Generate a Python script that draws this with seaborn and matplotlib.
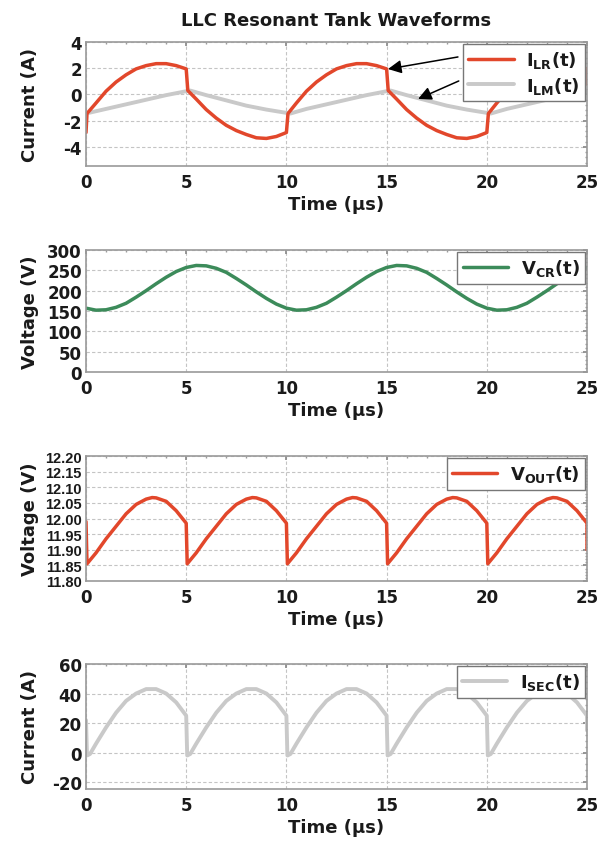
import matplotlib
matplotlib.use("Agg")
import matplotlib.pyplot as plt
from matplotlib.ticker import AutoMinorLocator
import seaborn as sns

# ---------------- data ----------------
t_ilr = [0.0, 0.05, 0.5, 1.0, 1.5, 2.0, 2.5, 3.0, 3.5, 4.0, 4.5, 5.0,
         5.08, 5.5, 6.0, 6.5, 7.0, 7.5, 8.0, 8.5, 9.0, 9.5, 10.0,
         10.08, 10.5, 11.0, 11.5, 12.0, 12.5, 13.0, 13.5, 14.0, 14.5, 15.0,
         15.08, 15.5, 16.0, 16.5, 17.0, 17.5, 18.0, 18.5, 19.0, 19.5, 20.0,
         20.08, 20.5, 21.0, 21.5, 22.0, 22.5, 23.0, 23.5, 24.0, 24.5, 25.0, 25.0]
i_lr = [-2.9, -1.45, -0.65, 0.25, 0.95, 1.5, 1.95, 2.2, 2.35, 2.35, 2.2, 1.95,
        0.3, -0.35, -1.15, -1.8, -2.35, -2.75, -3.05, -3.3, -3.35, -3.2, -2.9,
        -1.45, -0.65, 0.25, 0.95, 1.5, 1.95, 2.2, 2.35, 2.35, 2.2, 1.95,
        0.3, -0.35, -1.15, -1.8, -2.35, -2.75, -3.05, -3.3, -3.35, -3.2, -2.9,
        -1.45, -0.65, 0.25, 0.95, 1.5, 1.95, 2.2, 2.35, 2.35, 2.2, 1.95, 0.8]

t_ilm = [0.0, 1.0, 2.0, 3.0, 4.0, 5.0, 5.2, 6.0, 7.0, 8.0, 9.0, 10.0, 10.2,
         11.0, 12.0, 13.0, 14.0, 15.0, 15.2, 16.0, 17.0, 18.0, 19.0, 20.0, 20.2,
         21.0, 22.0, 23.0, 24.0, 25.0]
i_lm = [-1.45, -1.1, -0.75, -0.4, -0.05, 0.25, 0.3, -0.05, -0.45, -0.85, -1.15, -1.4, -1.45,
        -1.1, -0.75, -0.4, -0.05, 0.25, 0.3, -0.05, -0.45, -0.85, -1.15, -1.4, -1.45,
        -1.1, -0.75, -0.4, -0.05, 0.25]

t_vcr = [0.0, 0.5, 1.0, 1.5, 2.0, 2.5, 3.0, 3.5, 4.0, 4.5, 5.0, 5.5, 6.0, 6.5, 7.0,
         7.5, 8.0, 8.5, 9.0, 9.5, 10.0, 10.5, 11.0, 11.5, 12.0, 12.5, 13.0, 13.5,
         14.0, 14.5, 15.0, 15.5, 16.0, 16.5, 17.0, 17.5, 18.0, 18.5, 19.0, 19.5,
         20.0, 20.5, 21.0, 21.5, 22.0, 22.5, 23.0, 23.5, 24.0, 24.5, 25.0]
v_cr = [157, 152, 153, 159, 169, 184, 200, 217, 233, 247, 257, 262, 261, 255, 245,
        230, 214, 197, 181, 167, 157, 152, 153, 159, 169, 184, 200, 217,
        233, 247, 257, 262, 261, 255, 245, 230, 214, 197, 181, 167,
        157, 152, 153, 159, 169, 184, 200, 217, 233, 247, 257]

t_out = [0.0, 0.05, 0.5, 1.0, 1.5, 2.0, 2.5, 3.0, 3.3, 3.5, 4.0, 4.5, 5.0,
         5.05, 5.5, 6.0, 6.5, 7.0, 7.5, 8.0, 8.3, 8.5, 9.0, 9.5, 10.0,
         10.05, 10.5, 11.0, 11.5, 12.0, 12.5, 13.0, 13.3, 13.5, 14.0, 14.5, 15.0,
         15.05, 15.5, 16.0, 16.5, 17.0, 17.5, 18.0, 18.3, 18.5, 19.0, 19.5, 20.0,
         20.05, 20.5, 21.0, 21.5, 22.0, 22.5, 23.0, 23.3, 23.5, 24.0, 24.5, 25.0, 25.0]
v_out = [11.99, 11.855, 11.89, 11.935, 11.975, 12.015, 12.045, 12.062, 12.067, 12.066, 12.055, 12.025, 11.985,
         11.855, 11.89, 11.935, 11.975, 12.015, 12.045, 12.062, 12.067, 12.066, 12.055, 12.025, 11.985,
         11.855, 11.89, 11.935, 11.975, 12.015, 12.045, 12.062, 12.067, 12.066, 12.055, 12.025, 11.985,
         11.855, 11.89, 11.935, 11.975, 12.015, 12.045, 12.062, 12.067, 12.066, 12.055, 12.025, 11.985,
         11.855, 11.89, 11.935, 11.975, 12.015, 12.045, 12.062, 12.067, 12.066, 12.055, 12.025, 11.985, 11.90]

t_sec = [0.0, 0.05, 0.2, 0.5, 1.0, 1.5, 2.0, 2.5, 3.0, 3.5, 4.0, 4.5, 5.0,
         5.05, 5.2, 5.5, 6.0, 6.5, 7.0, 7.5, 8.0, 8.5, 9.0, 9.5, 10.0,
         10.05, 10.2, 10.5, 11.0, 11.5, 12.0, 12.5, 13.0, 13.5, 14.0, 14.5, 15.0,
         15.05, 15.2, 15.5, 16.0, 16.5, 17.0, 17.5, 18.0, 18.5, 19.0, 19.5, 20.0,
         20.05, 20.2, 20.5, 21.0, 21.5, 22.0, 22.5, 23.0, 23.5, 24.0, 24.5, 25.0, 25.0]
i_sec = [22, -2, -1, 6, 17, 27, 35, 40, 43, 43, 40, 34, 25,
         -2, -1, 6, 17, 27, 35, 40, 43, 43, 40, 34, 25,
         -2, -1, 6, 17, 27, 35, 40, 43, 43, 40, 34, 25,
         -2, -1, 6, 17, 27, 35, 40, 43, 43, 40, 34, 25,
         -2, -1, 6, 17, 27, 35, 40, 43, 43, 40, 34, 25, 15]

x_ticks = [0, 5, 10, 15, 20, 25]
y1_ticks = [-4, -2, 0, 2, 4]
y2_ticks = [0, 50, 100, 150, 200, 250, 300]
y3_ticks = [11.80, 11.85, 11.90, 11.95, 12.00, 12.05, 12.10, 12.15, 12.20]
y4_ticks = [-20, 0, 20, 40, 60]

RED = "#E2472B"
GRAY = "#C9C9C9"
GREEN = "#3C8B5A"
INK = "#1a1a1a"

# ---------------- style ----------------
sns.set_theme(style="white")
plt.rcParams["font.family"] = ["DejaVu Sans"]
plt.rcParams["font.weight"] = "bold"
plt.rcParams["axes.unicode_minus"] = False
plt.rcParams["text.color"] = INK
plt.rcParams["axes.labelcolor"] = INK
plt.rcParams["xtick.labelcolor"] = INK
plt.rcParams["ytick.labelcolor"] = INK
plt.rcParams["mathtext.fontset"] = "custom"
plt.rcParams["mathtext.rm"] = "DejaVu Sans:bold"
plt.rcParams["mathtext.bf"] = "DejaVu Sans:bold"
plt.rcParams["mathtext.it"] = "DejaVu Sans:bold"
plt.rcParams["mathtext.default"] = "rm"

fig = plt.figure(figsize=(6, 8.45), dpi=100)
L, W = 86 / 600, 501 / 600
H = 845.0
boxes = [(43, 167), (251, 373), (457, 582), (665, 790)]
axes = [fig.add_axes([L, 1 - b / H, W, (b - t) / H]) for t, b in boxes]


def style(ax, ylim, yticks, ylabel, narrow=False):
    ax.set_xlim(0, 25)
    ax.set_xticks(x_ticks)
    ax.set_ylim(*ylim)
    ax.set_yticks(yticks)
    if narrow:
        ax.set_yticklabels(["{:.2f}".format(v) for v in yticks])
    ax.grid(True, color="#c4c4c4", linestyle=(0, (3, 2)), linewidth=0.8)
    ax.set_axisbelow(True)
    for s in ax.spines.values():
        s.set_color("#9a9a9a")
        s.set_linewidth(1.2)
    ax.xaxis.set_minor_locator(AutoMinorLocator(5))
    ax.yaxis.set_minor_locator(AutoMinorLocator(5))
    ax.tick_params(which="major", direction="in", length=3, color="#8a8a8a",
                   top=True, right=True)
    ax.tick_params(which="minor", direction="in", length=1.5, color="#9a9a9a",
                   top=True, right=True)
    ax.tick_params(axis="x", labelsize=12, pad=5)
    ax.tick_params(axis="y", labelsize=12, pad=3)
    for lab in ax.get_xticklabels() + ax.get_yticklabels():
        lab.set_fontweight("bold")
    if narrow:
        for lab in ax.get_yticklabels():
            lab.set_fontfamily(["Liberation Sans", "DejaVu Sans"])
            lab.set_fontsize(10.5)
    ax.set_xlabel("Time (µs)", fontsize=13, fontweight="bold", labelpad=3)
    ax.set_ylabel(ylabel, fontsize=13, fontweight="bold")
    ax.yaxis.set_label_coords(-0.094, 0.5)


leg_kw = dict(loc="upper right", frameon=True, fancybox=False, edgecolor="#777777",
              framealpha=1, borderaxespad=0.1, handlelength=2.5,
              prop={"weight": "bold", "size": 13}, borderpad=0.3, labelspacing=0.25,
              handletextpad=0.7)

# Panel 1
ax = axes[0]
sns.lineplot(x=t_ilm, y=i_lm, ax=ax, color=GRAY, linewidth=2.8, estimator=None,
             sort=False, label=r"I$_{\rm LM}$(t)")
sns.lineplot(x=t_ilr, y=i_lr, ax=ax, color=RED, linewidth=2.5, estimator=None,
             sort=False, label=r"I$_{\rm LR}$(t)")
style(ax, (-5.45, 4), y1_ticks, "Current (A)")
h, l = ax.get_legend_handles_labels()
ax.legend(h[::-1], l[::-1], **leg_kw)
ax.set_title("LLC Resonant Tank Waveforms", fontsize=13, fontweight="bold", pad=12)
ax.annotate("", xy=(15.07, 1.94), xytext=(18.56, 2.86), xycoords="data",
            arrowprops=dict(arrowstyle="-|>", color="black", lw=1.1, mutation_scale=20,
                            shrinkA=0, shrinkB=0))
ax.annotate("", xy=(16.57, -0.34), xytext=(18.6, 1.03), xycoords="data",
            arrowprops=dict(arrowstyle="-|>", color="black", lw=1.1, mutation_scale=20,
                            shrinkA=0, shrinkB=0))

# Panel 2
ax = axes[1]
sns.lineplot(x=t_vcr, y=v_cr, ax=ax, color=GREEN, linewidth=2.5, estimator=None,
             sort=False, label=r"V$_{\rm CR}$(t)")
style(ax, (0, 300), y2_ticks, "Voltage (V)")
ax.legend(**leg_kw)

# Panel 3
ax = axes[2]
sns.lineplot(x=t_out, y=v_out, ax=ax, color=RED, linewidth=2.5, estimator=None,
             sort=False, label=r"V$_{\rm OUT}$(t)")
style(ax, (11.80, 12.20), y3_ticks, "Voltage (V)", narrow=True)
ax.legend(**leg_kw)

# Panel 4
ax = axes[3]
sns.lineplot(x=t_sec, y=i_sec, ax=ax, color=GRAY, linewidth=2.8, estimator=None,
             sort=False, label=r"I$_{\rm SEC}$(t)")
style(ax, (-24.7, 60), y4_ticks, "Current (A)")
ax.legend(**leg_kw)

fig.savefig("out.png", dpi=100)
